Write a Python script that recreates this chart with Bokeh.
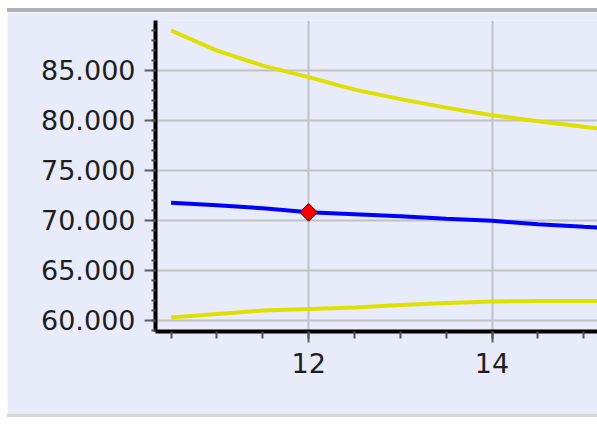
from bokeh.plotting import figure
from bokeh.models import FixedTicker, Range1d
from bokeh.embed import file_html
from bokeh.resources import INLINE
import math

# ---- data ----
x_vals = [10.5, 11.0, 11.5, 12.0, 12.5, 13.0, 13.5, 14.0, 14.5, 15.0, 15.5]
upper = [88.95, 86.95, 85.45, 84.3, 83.05, 82.1, 81.25, 80.5, 79.9, 79.35, 78.8]
mean = [71.75, 71.5, 71.2, 70.8, 70.6, 70.4, 70.15, 69.95, 69.6, 69.35, 69.15]
lower = [60.3, 60.65, 61.0, 61.15, 61.3, 61.55, 61.75, 61.9, 61.95, 61.95, 61.95]
marker_x = [12.0]
marker_y = [70.8]
x_major = [12, 14]
x_minor = [10.5, 11.0, 11.5, 12.0, 12.5, 13.0, 13.5, 14.0, 14.5, 15.0]
y_major = [60, 65, 70, 75, 80, 85]
y_minor = list(range(59, 90))
y_labels = {v: f"{v}.000" for v in y_major}

BG = "#E7EBFA"

p = figure(width=590, height=409, output_backend="svg", toolbar_location=None,
           x_range=Range1d(10.33, 15.15), y_range=Range1d(58.9, 89.95),
           min_border_left=148, min_border_right=0, min_border_top=8,
           min_border_bottom=90)
p.styles = {"margin-top": "8px", "margin-left": "7px",
            "border-top": "4px solid #B2B2B2", "border-bottom": "3px solid #D6D6D6"}
p.background_fill_color = BG
p.border_fill_color = BG
p.outline_line_color = None

p.xaxis.ticker = FixedTicker(ticks=x_major, minor_ticks=x_minor)
p.yaxis.ticker = FixedTicker(ticks=y_major, minor_ticks=y_minor)
p.yaxis.major_label_overrides = y_labels

for ax in (p.xaxis, p.yaxis):
    ax.axis_line_color = "black"
    ax.axis_line_width = 4
    ax.major_tick_line_color = "#606060"
    ax.minor_tick_line_color = "#505050"
    ax.major_tick_line_width = 2
    ax.minor_tick_line_width = 2
    ax.major_tick_in = 0
    ax.minor_tick_in = 0
    ax.major_label_text_font = "DejaVu Sans"
    ax.major_label_text_font_size = "27px"
    ax.major_label_text_color = "#1E1E1E"
    ax.major_label_text_font_style = "normal"

p.xaxis.major_tick_out = 11
p.xaxis.minor_tick_out = 7
p.xaxis.major_label_standoff = 10
p.yaxis.major_tick_out = 11
p.yaxis.minor_tick_out = 4
p.yaxis.major_label_standoff = 9

p.grid.grid_line_color = "#C2C2C2"
p.grid.grid_line_width = 2

p.line(x_vals, upper, line_color="#E0E000", line_width=4)
p.line(x_vals, lower, line_color="#E0E000", line_width=4)
p.line(x_vals, mean, line_color="#0000FF", line_width=4)
p.scatter(marker_x, marker_y, marker="square", angle=math.pi / 4, size=12.5,
          fill_color="#FF0000", line_color="black", line_width=1)

open("out.html", "w").write(file_html(p, INLINE))
